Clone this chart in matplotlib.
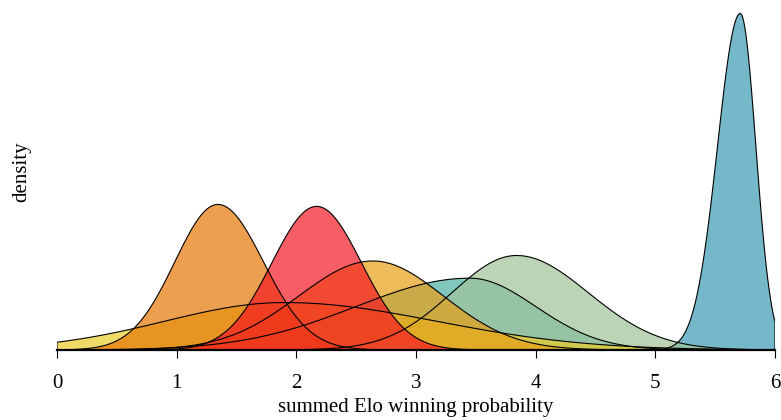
import numpy as np
import matplotlib
matplotlib.use("Agg")
import matplotlib.pyplot as plt

# Parametros: moda e desvio de cada lado (normal assimetrica)
# ordem = ordem de desenho (de baixo para cima)
equipes = ["azul", "turquesa", "salvia", "amarelo", "ambar", "laranja", "vermelho"]
moda = [5.71, 3.45, 3.84, 1.90, 2.64, 1.345, 2.17]
sd_esq = [0.19, 0.95, 0.54, 1.00, 0.62, 0.36, 0.375]
sd_dir = [0.13, 0.55, 0.60, 1.27, 0.59, 0.38, 0.375]
cores = ["#3B9AB2", "#4AB0A2", "#9EC298", "#EBCC2A", "#E79F16", "#E57705", "#F41922"]
ticks_x = [0, 1, 2, 3, 4, 5, 6]

plt.rcParams["font.family"] = ["Liberation Serif", "DejaVu Serif"]

def densidade(x, m, s1, s2):
    # normal em duas partes, area 1
    c = 2.0 / (np.sqrt(2 * np.pi) * (s1 + s2))
    s = np.where(x < m, s1, s2)
    return c * np.exp(-0.5 * ((x - m) / s) ** 2)

x = np.linspace(0, 6, 601)

fig = plt.figure(figsize=(7.81, 4.2), dpi=100)
ax = fig.add_axes([57 / 781, 70 / 420, 718 / 781, 350 / 420])

curvas = [densidade(x, m, s1, s2) for m, s1, s2 in zip(moda, sd_esq, sd_dir)]

# primeiro os preenchimentos, depois os contornos
for y, cor in zip(curvas, cores):
    ax.fill(np.r_[x, 6, 0], np.r_[y, 0, 0], color=cor, alpha=0.7, lw=0)
for y in curvas:
    ax.fill(np.r_[x, 6, 0], np.r_[y, 0, 0], fill=False, edgecolor="black", lw=0.8)

ax.set_xlim(0, 6)
ax.set_ylim(0, 350 / 135)
for lado in ["left", "top", "right"]:
    ax.spines[lado].set_visible(False)
ax.spines["bottom"].set_linewidth(1.6)
ax.set_yticks([])
ax.set_xticks(ticks_x)
ax.tick_params(axis="x", length=6, width=0.8, pad=11, labelsize=15)
ax.set_xlabel("summed Elo winning probability", fontsize=15, labelpad=4)
fig.text(22 / 781, 1 - 172 / 420, "density", rotation=90, fontsize=15,
         ha="center", va="center")

fig.savefig("out.png", dpi=100)
